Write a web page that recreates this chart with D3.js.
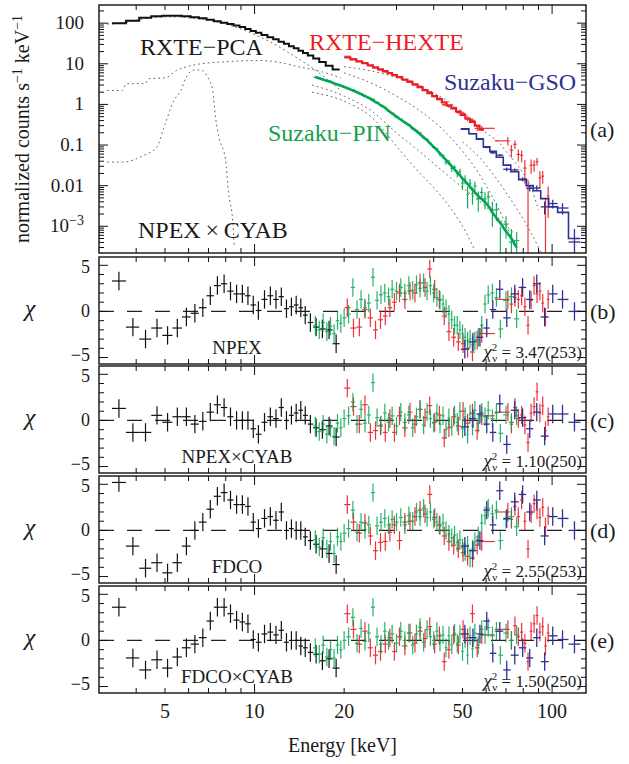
<!DOCTYPE html>
<html>
<head>
<meta charset="utf-8">
<script src="https://cdn.jsdelivr.net/npm/d3@7"></script>
<style>
  body { margin: 0; background: #fff; }
  svg text { font-family: "Liberation Serif", "Times New Roman", serif; fill: #1a1a1a; }
</style>
</head>
<body>
<svg id="chart" width="629" height="764"></svg>
<script>
// ---- RXTE-PCA (black) ----
const pcaE = [3.5,3.9,4.3,4.7,5.1,5.5,5.9,6.3,6.7,7.1,7.5,7.9,8.3,8.7,9.1,9.5,9.9,10.3,10.8,11.3,11.8,12.3,12.8,13.3,13.8,14.3,14.8,15.4,16.1,16.9,17.8,18.8];
const pcaFlux = [100,115,135,148,152,152,148,140,132,122,112,102,95,88,80,72,64,58,51,45,40,35,31,27,24,21,18.5,16,13.5,11,9,7.2];
const pcaResNPEX = [3.3,-1.7,-3.0,-1.8,-2.6,-1.8,-0.6,-0.2,0.4,1.7,2.8,3.0,2.2,1.9,1.9,1.7,0.7,0.1,1.3,1.7,1.3,1.6,0.3,0.5,0.7,0.4,-0.4,-1.2,-1.7,-1.9,-2.0,-3.5];
const pcaResNPEXCYAB = [1.3,-1.3,-1.3,0.55,-0.2,0.4,0.4,-0.4,-0.1,0.9,1.7,1.4,0.4,0.0,0.0,0.0,-0.9,-1.5,-0.2,0.4,0.2,1.4,0.0,0.55,0.8,1.1,0.55,-0.4,-0.8,-1.0,-0.6,-1.8];
const pcaResFDCO = [5.2,-1.7,-4.1,-3.5,-4.6,-3.5,-1.7,0.0,0.9,2.3,3.7,4.1,3.3,2.8,2.8,2.6,0.9,0.2,1.3,1.5,1.1,2.0,0.0,0.2,0.0,0.0,-0.7,-1.1,-1.5,-2.0,-2.5,-3.7];
const pcaResFDCOCYAB = [3.6,-1.9,-3.2,-2.1,-3.0,-1.8,-0.8,-0.4,0.3,2.1,3.6,3.6,2.9,2.2,2.0,1.8,0.1,-0.2,0.7,0.9,0.6,1.1,-0.2,0.0,0.0,-0.6,-0.8,-1.3,-1.5,-2.2,-2.0,-3.0];

// ---- RXTE-HEXTE (red) ----
const hexteE = [20.5,21.5,22.5,23.5,24.5,25.5,26.5,27.5,28.5,29.5,30.7,32,33.3,34.6,36,37.4,38.8,40.3,41.8,43.4,45,46.7,48.4,50.2,52,54,56,58,71,73,75,77,79,81,83,85,87,89,91,93,95,97];
const hexteFlux = [14.3,12.8,11.5,10.3,9.2,8.2,7.3,6.6,5.9,5.3,4.7,4.1,3.6,3.1,2.65,2.25,1.9,1.6,1.35,1.12,0.95,0.80,0.67,0.55,0.45,0.37,0.30,0.24,0.10,0.085,0.07,0.055,0.045,0.035,0.028,0.022,0.017,0.013,0.010,0.0075,0.0055,0.004];
const hexteFracErr = [0.02,0.02,0.02,0.02,0.025,0.025,0.025,0.03,0.03,0.03,0.035,0.035,0.04,0.04,0.045,0.05,0.05,0.055,0.06,0.065,0.07,0.08,0.09,0.1,0.11,0.12,0.13,0.15,0.3,0.3,0.35,0.35,0.4,0.45,0.5,0.55,0.6,0.65,0.7,0.8,0.9,1.0];
const hexteResNPEX = [0.4,-1.8,-1.7,0.2,-0.7,-2.0,-0.9,-0.5,0.4,1.0,2.0,1.3,2.2,2.0,3.1,2.6,4.6,2.4,1.3,-0.5,-2.2,-2.8,-3.3,-3.5,-4.0,-4.4,-3.1,-2.4,1.3,0.8,1.5,1.3,1.7,0.5,-1.5,1.2,2.8,1.9,2.2,0.9,-0.6,1.3];
const hexteResNPEXCYAB = [3.5,1.5,-0.4,1.7,-1.3,-1.1,-0.6,-1.3,0.2,-1.3,0.5,-0.8,0.9,-0.4,1.2,0.3,1.6,-0.2,0.6,-1.9,-0.8,0.4,-0.6,1.0,-0.3,0.8,-1.1,0.5,0.9,-0.4,1.4,0.2,0.6,-0.5,-2.4,0.8,1.5,3.1,0.8,1.6,-1.1,0.4];
const hexteResFDCO = [2.8,0.9,-0.3,0.8,-0.6,-2.2,-1.3,-1.2,-0.2,0.6,-1.1,0.9,1.0,1.5,2.2,1.8,3.9,1.4,0.6,-0.6,-1.2,-1.6,-2.0,-2.4,-2.8,-3.0,-1.6,-1.2,2.0,1.2,2.6,1.5,3.3,1.0,-2.0,1.8,2.9,2.2,1.4,2.5,0.4,1.6];
const hexteResFDCOCYAB = [2.9,1.2,-0.4,1.0,-0.8,-1.6,-1.2,-0.4,0.3,-1.2,0.4,-0.6,0.8,-0.3,1.0,0.2,1.5,-0.4,0.5,-2.3,-1.0,0.6,-0.5,1.2,0.3,2.9,-0.8,0.6,1.2,0.0,1.6,0.4,0.9,-0.3,-2.3,1.0,1.8,2.7,0.9,1.5,-0.6,0.8];

// ---- Suzaku-PIN (green) ----
const pinE = [16,16.5,17,17.5,18,18.5,19,19.5,20,20.7,21.4,22.1,22.8,23.5,24.2,25,25.8,26.6,27.4,28.2,29,30,31,32,33,34,35,36,37,38,39,40,41,42,43,44,45,46,47,48,49,50,51,52,53,54,55,56.5,58,59.5,61,63,65,67,70,73,76];
const pinFlux = [4.7,4.4,4.1,3.8,3.6,3.3,3.1,2.9,2.7,2.45,2.2,2.0,1.8,1.6,1.45,1.25,1.1,0.95,0.83,0.70,0.60,0.50,0.42,0.36,0.31,0.26,0.22,0.185,0.155,0.13,0.108,0.090,0.075,0.062,0.051,0.043,0.036,0.030,0.025,0.021,0.018,0.015,0.013,0.011,0.0093,0.0080,0.0068,0.0055,0.0047,0.0039,0.0032,0.0022,0.0016,0.0012,0.00075,0.0005,0.0003];
const pinFracErr = [0.01,0.01,0.01,0.01,0.01,0.01,0.012,0.012,0.012,0.013,0.014,0.015,0.016,0.017,0.018,0.02,0.021,0.022,0.024,0.026,0.028,0.03,0.033,0.036,0.04,0.044,0.05,0.055,0.06,0.065,0.07,0.08,0.09,0.1,0.11,0.12,0.14,0.16,0.18,0.2,0.22,0.25,0.28,0.3,0.33,0.36,0.4,0.45,0.5,0.55,0.6,0.7,0.75,0.8,0.85,0.9,0.95];
const pinResNPEX = [-1.5,-2.0,-1.2,-2.2,-1.6,-2.4,-1.0,-1.3,-0.7,-0.3,2.6,0.2,1.3,0.4,0.9,3.7,1.2,1.8,2.0,1.6,2.4,2.2,2.6,2.0,2.8,2.3,2.9,2.5,3.1,2.2,2.8,2.0,1.5,1.2,0.8,0.3,-0.3,-0.9,-1.5,-1.5,-2.0,-2.4,-2.8,-3.2,-3.0,-3.6,-3.2,-2.8,-1.5,0.8,1.8,2.0,1.5,-1.9,1.2,1.6,-0.8];
const pinResNPEXCYAB = [-0.6,-1.2,-0.4,-1.5,-0.8,-1.7,-0.3,-0.8,0.2,0.5,2.0,-0.4,1.2,-0.3,0.6,4.1,0.3,-0.5,0.8,-0.2,0.5,-0.6,0.9,-0.2,0.6,-0.8,0.4,1.2,-0.5,0.9,0.2,-0.3,0.8,-0.4,0.5,-1.0,0.3,-0.7,0.6,-0.2,1.0,-0.9,0.4,-1.5,0.7,-0.6,1.1,-0.3,0.9,0.4,1.1,0.2,0.8,-1.4,0.6,-0.2,0.5];
const pinResFDCO = [-1.0,-1.8,-0.8,-2.0,-1.2,-2.5,-0.7,-1.2,-0.3,0.2,2.2,-0.2,0.9,0.1,0.6,4.1,0.5,0.9,1.3,0.6,1.2,0.9,1.4,0.6,1.6,1.0,2.0,1.5,2.4,1.4,2.0,1.2,0.9,0.5,0.8,0.0,-0.4,-0.8,-0.5,-1.3,-1.0,-1.9,-2.3,-1.6,-3.0,-2.0,-1.2,-0.6,0.8,1.6,2.4,1.8,2.2,-1.1,1.2,1.5,0.4];
const pinResFDCOCYAB = [-0.8,-1.5,-0.5,-1.8,-1.0,-1.9,-0.5,-1.0,0.0,0.4,2.5,-0.3,1.3,-0.1,0.8,3.6,0.4,-0.4,1.0,0.0,0.7,-0.3,1.0,0.0,0.8,-0.5,0.7,1.4,-0.2,1.2,0.4,0.0,1.0,-0.2,0.6,-0.8,0.5,-0.5,0.8,-0.3,0.7,-1.2,0.2,-1.6,0.5,-0.9,0.8,-0.5,1.2,0.6,1.4,0.5,1.0,-1.6,0.8,0.0,0.6];

// ---- Suzaku-GSO (blue) ----
const gsoE = [50.9,54.2,57.2,60.3,63.2,66.7,70.4,74.9,79.6,84.1,88.8,94.4,100.5,108.4,118.9];
const gsoFlux = [0.25,0.19,0.14,0.09,0.07,0.05,0.032,0.022,0.014,0.010,0.0075,0.0048,0.003,0.0022,0.0005];
const gsoFracErr = [0.03,0.03,0.04,0.05,0.06,0.07,0.08,0.1,0.12,0.15,0.18,0.22,0.3,0.4,0.9];
const gsoResNPEX = [-4.1,-3.3,-2.8,-1.8,0.2,2.4,-0.7,1.9,2.6,1.3,3.0,-0.6,1.9,1.3,0.0];
const gsoResNPEXCYAB = [-0.7,0.2,0.7,-0.4,-1.3,1.8,-2.6,1.1,0.3,-0.9,0.9,-1.7,0.7,0.7,-0.2];
const gsoResFDCO = [-1.7,-2.2,-1.1,2.2,0.6,4.3,1.3,3.1,3.9,2.0,3.3,-0.6,1.5,1.3,0.0];
const gsoResFDCOCYAB = [0.7,0.3,0.7,2.1,-1.4,1.0,-3.2,-1.6,-0.8,-1.9,0.3,-2.3,0.5,0.1,-0.4];

// ---- model components (gray dotted) ----
const compPcaSoftE = [3.2,3.6,4,4.5,5,5.5,6,7,8,9,10,11,12,13,14,16,18,19.5];
const compPcaSoftF = [95,100,118,135,142,142,136,118,95,72,52,38,27,19,13.5,7,3.6,2.2];
const compPcaHardE = [3.2,3.6,3.7,4.3,4.4,5,5.5,6.1,7,8,9,10.5,12,14,16,18,19.5];
const compPcaHardF = [2.2,2.2,3.2,3.3,4.3,4.5,7,9,10.5,11.2,11.8,12,11,8.5,7,5.5,4.5];
const compPcaBumpE = [3.2,3.6,4.25,4.7,4.95,5.36,5.65,5.87,6.25,6.6,6.96,7.23,7.4,7.58,7.99,8.18,8.44,8.55];
const compPcaBumpF = [0.038,0.038,0.056,0.09,0.26,1.26,2.2,4.4,7,7,4.7,2.2,0.46,0.16,0.043,0.0065,0.0014,0.0003];
const compHexte1E = [20,25,30,35,40,45,50,55,60,66.7,70,75,80,85,90];
const compHexte1F = [8.5,6.5,4.6,3.0,1.9,1.15,0.65,0.36,0.2,0.11,0.07,0.038,0.02,0.009,0.0025];
const compHexte2E = [20,25,30,35,40,45,50,55,60,65,70,75];
const compHexte2F = [6,3.2,1.6,0.8,0.38,0.17,0.07,0.028,0.01,0.0035,0.0011,0.0003];
const compPin1E = [15.6,20,25,30,35,40,50,60,74];
const compPin1F = [3.0,1.6,0.65,0.2,0.08,0.035,0.009,0.003,0.0007];
const compPin2E = [15.6,20,25,30.8,35,40,47.8,52,55];
const compPin2F = [2.0,1.2,0.45,0.074,0.025,0.009,0.0017,0.0006,0.00025];
const compGsoE = [50,58,65,72,80,90,95];
const compGsoF = [0.12,0.043,0.015,0.005,0.0015,0.0003,0.00012];

const xTickLabels = [5, 10, 20, 50, 100];
const topTickValues = [100, 10, 1, 0.1, 0.01, 0.001];
const topTickText = ['100', '10', '1', '0.1', '0.01', '10|−3'];
const resTickValues = [5, 0, -5];
const panelModels = ['NPEX', 'NPEX×CYAB', 'FDCO', 'FDCO×CYAB'];
const panelStats = ['3.47(253)', '1.10(250)', '2.55(253)', '1.50(250)'];
const panelLetters = ['(a)', '(b)', '(c)', '(d)', '(e)'];

const RED = '#ec1c24', GREEN = '#00a651', BLUE = '#2e3192', BLACK = '#111';

const svg = d3.select('#chart');
const L = 99, R = 586;
const x = d3.scaleLog().domain([3, 130]).range([L, R]);
const topPanel = { y0: 5, y1: 253 };
const yTop = d3.scaleLog().domain([2.2e-4, 280]).range([topPanel.y1, topPanel.y0]);
const resTops = [257, 366, 476, 586];
const resH = 107;

function binEdges(E) {
  return E.map((e, i) => {
    let rl = i > 0 ? e / E[i - 1] : E[i + 1] / e;
    let rh = i < E.length - 1 ? E[i + 1] / e : e / E[i - 1];
    if (rl > 1.5 * rh) rl = rh;
    if (rh > 1.5 * rl) rh = rl;
    return [e / Math.sqrt(rl), e * Math.sqrt(rh)];
  });
}

function clip(id, y0, y1) {
  svg.append('clipPath').attr('id', id)
    .append('rect').attr('x', L).attr('y', y0).attr('width', R - L).attr('height', y1 - y0);
}

function drawCrosses(g, E, vals, lo, hi, y, color, width, opacity) {
  const edges = binEdges(E);
  const cg = g.append('g').attr('stroke', color).attr('stroke-width', width).attr('opacity', opacity);
  E.forEach((e, i) => {
    cg.append('line').attr('x1', x(edges[i][0])).attr('x2', x(edges[i][1]))
      .attr('y1', y(vals[i])).attr('y2', y(vals[i]));
    cg.append('line').attr('x1', x(e)).attr('x2', x(e))
      .attr('y1', y(lo[i])).attr('y2', y(hi[i]));
  });
}

function stepPath(E, F) {
  const edges = binEdges(E);
  const pts = [];
  E.forEach((e, i) => { pts.push([edges[i][0], F[i]], [edges[i][1], F[i]]); });
  return pts;
}

function xTicks(y0, y1) {
  const g = svg.append('g').attr('stroke', BLACK).attr('stroke-width', 1);
  const vals = [];
  [1, 10, 100].forEach(d => { for (let m = 1; m <= 9; m++) { const v = m * d; if (v > 3 && v < 130) vals.push(v); } });
  vals.forEach(v => {
    const len = (v === 10 || v === 100) ? 9 : 5;
    g.append('line').attr('x1', x(v)).attr('x2', x(v)).attr('y1', y0).attr('y2', y0 + len);
    g.append('line').attr('x1', x(v)).attr('x2', x(v)).attr('y1', y1).attr('y2', y1 - len);
  });
}

function yTicks(y, vals, majors) {
  const g = svg.append('g').attr('stroke', BLACK).attr('stroke-width', 1);
  vals.forEach(v => {
    const len = majors(v) ? 9 : 5;
    g.append('line').attr('x1', L).attr('x2', L + len).attr('y1', y(v)).attr('y2', y(v));
    g.append('line').attr('x1', R).attr('x2', R - len).attr('y1', y(v)).attr('y2', y(v));
  });
}

// ---------- top panel (a) ----------
clip('clipTop', topPanel.y0, topPanel.y1);
const gTop = svg.append('g').attr('clip-path', 'url(#clipTop)');
const line = d3.line().x(d => x(d[0])).y(d => yTop(d[1]));
const curve = d3.line().x(d => x(d[0])).y(d => yTop(d[1])).curve(d3.curveMonotoneX);

[[compPcaSoftE, compPcaSoftF], [compPcaHardE, compPcaHardF], [compPcaBumpE, compPcaBumpF],
 [compHexte1E, compHexte1F], [compHexte2E, compHexte2F], [compPin1E, compPin1F],
 [compPin2E, compPin2F], [compGsoE, compGsoF]].forEach(([E, F]) => {
  gTop.append('path').datum(E.map((e, i) => [e, F[i]]))
    .attr('d', curve).attr('fill', 'none').attr('stroke', '#6a6a6a')
    .attr('stroke-width', 1).attr('stroke-dasharray', '1.8,3');
});

const floorV = 1e-5;
function topData(flux, frac, res) {
  const v = flux.map((f, i) => Math.max(f * (1 + res[i] * frac[i]), floorV));
  const lo = flux.map((f, i) => Math.max(v[i] - f * frac[i], floorV));
  const hi = flux.map((f, i) => v[i] + f * frac[i]);
  return { v, lo, hi };
}

// PCA model step
gTop.append('path').datum(stepPath(pcaE, pcaFlux)).attr('d', line)
  .attr('fill', 'none').attr('stroke', BLACK).attr('stroke-width', 2);

// HEXTE
const hx = topData(hexteFlux, hexteFracErr, hexteResNPEXCYAB);
drawCrosses(gTop, hexteE, hx.v, hx.lo, hx.hi, yTop, RED, 1.2, 0.9);
gTop.append('path').datum(stepPath(hexteE.slice(0, 28), hexteFlux.slice(0, 28))).attr('d', line)
  .attr('fill', 'none').attr('stroke', RED).attr('stroke-width', 2.2);

// GSO
const gx = topData(gsoFlux, gsoFracErr, gsoResNPEXCYAB);
drawCrosses(gTop, gsoE, gx.v, gx.lo, gx.hi, yTop, BLUE, 1.3, 1);
gTop.append('path').datum(stepPath(gsoE, gsoFlux)).attr('d', line)
  .attr('fill', 'none').attr('stroke', BLUE).attr('stroke-width', 1.6);

// PIN
const px = topData(pinFlux, pinFracErr, pinResNPEXCYAB);
drawCrosses(gTop, pinE, px.v, px.lo, px.hi, yTop, GREEN, 1.2, 0.9);
gTop.append('path').datum(pinE.map((e, i) => [e, pinFlux[i]])).attr('d', curve)
  .attr('fill', 'none').attr('stroke', GREEN).attr('stroke-width', 2.6);

// frame + ticks
svg.append('rect').attr('x', L).attr('y', topPanel.y0).attr('width', R - L)
  .attr('height', topPanel.y1 - topPanel.y0).attr('fill', 'none').attr('stroke', BLACK).attr('stroke-width', 1.4);
xTicks(topPanel.y0, topPanel.y1);
const topTickVals = [];
[-4, -3, -2, -1, 0, 1, 2].forEach(p => { for (let m = 1; m <= 9; m++) { const v = m * Math.pow(10, p); if (v > 2.2e-4 && v < 280) topTickVals.push(v); } });
yTicks(yTop, topTickVals, v => Math.abs(Math.log10(v) - Math.round(Math.log10(v))) < 1e-9);

topTickValues.forEach((v, i) => {
  const t = svg.append('text').attr('x', 84).attr('y', yTop(v) + 6)
    .attr('text-anchor', 'end').attr('font-size', 19);
  const parts = topTickText[i].split('|');
  t.append('tspan').text(parts[0]);
  if (parts[1]) t.append('tspan').attr('dy', -7).attr('font-size', 14).text(parts[1]);
});

// y label
const yl = svg.append('text').attr('transform', `translate(29,${(topPanel.y0 + topPanel.y1) / 2}) rotate(-90)`)
  .attr('text-anchor', 'middle').attr('font-size', 20);
yl.append('tspan').text('normalized counts s');
yl.append('tspan').attr('dy', -7).attr('font-size', 14).text('−1');
yl.append('tspan').attr('dy', 7).text(' keV');
yl.append('tspan').attr('dy', -7).attr('font-size', 14).text('−1');

// instrument labels
const instLabels = [
  { t: 'RXTE−PCA', x: 140, y: 55, c: '#1a1a1a' },
  { t: 'RXTE−HEXTE', x: 309, y: 50, c: RED },
  { t: 'Suzaku−GSO', x: 444, y: 90, c: BLUE },
  { t: 'Suzaku−PIN', x: 268, y: 141, c: '#13a04a' },
  { t: 'NPEX\u2009×\u2009CYAB', x: 138, y: 238, c: '#1a1a1a' }
];
instLabels.forEach(d => svg.append('text').attr('x', d.x).attr('y', d.y)
  .attr('font-size', 24).style('fill', d.c).text(d.t));

// ---------- residual panels ----------
const resSets = [
  [pcaResNPEX, hexteResNPEX, pinResNPEX, gsoResNPEX],
  [pcaResNPEXCYAB, hexteResNPEXCYAB, pinResNPEXCYAB, gsoResNPEXCYAB],
  [pcaResFDCO, hexteResFDCO, pinResFDCO, gsoResFDCO],
  [pcaResFDCOCYAB, hexteResFDCOCYAB, pinResFDCOCYAB, gsoResFDCOCYAB]
];

resTops.forEach((top, k) => {
  const bot = top + resH;
  const y = d3.scaleLinear().domain([-5.7, 5.9]).range([bot, top]);
  clip('clipRes' + k, top, bot);
  const g = svg.append('g').attr('clip-path', `url(#clipRes${k})`);

  g.append('line').attr('x1', L).attr('x2', R).attr('y1', y(0)).attr('y2', y(0))
    .attr('stroke', '#222').attr('stroke-width', 1.2).attr('stroke-dasharray', '15,13');

  const [rp, rh, rpin, rg] = resSets[k];
  const sets = [[pcaE, rp, BLACK, 1.2, 1], [hexteE, rh, RED, 1.2, 0.9], [pinE, rpin, GREEN, 1.2, 0.85], [gsoE, rg, BLUE, 1.3, 1]];
  sets.forEach(([E, r, c, w, o]) => {
    drawCrosses(g, E, r, r.map(v => v - 1), r.map(v => v + 1), y, c, w, o);
  });

  svg.append('rect').attr('x', L).attr('y', top).attr('width', R - L).attr('height', resH)
    .attr('fill', 'none').attr('stroke', BLACK).attr('stroke-width', 1.4);
  xTicks(top, bot);
  yTicks(y, d3.range(-5, 6), v => v % 5 === 0);

  resTickValues.forEach(v => svg.append('text').attr('x', 90)
    .attr('y', y(v) + (v > 0 ? 8 : v < 0 ? 3 : 6))
    .attr('text-anchor', 'end').attr('font-size', 18).text(v < 0 ? '−' + Math.abs(v) : v));

  svg.append('text').attr('x', 30).attr('y', y(0) + 5).attr('text-anchor', 'middle')
    .attr('font-size', 24).attr('font-style', 'italic').text('χ');

  svg.append('text').attr('x', 237).attr('y', bot - 10).attr('text-anchor', 'middle')
    .attr('font-size', 19).text(panelModels[k]);

  const st = svg.append('text').attr('x', 582).attr('y', bot - 6).attr('text-anchor', 'end').attr('font-size', 17);
  st.append('tspan').attr('font-size', 19).attr('font-style', 'italic').text('χ');
  st.append('tspan').attr('dy', -7).attr('font-size', 11).text('2');
  st.append('tspan').attr('dy', 11).attr('dx', -5).attr('font-size', 11).text('ν');
  st.append('tspan').attr('dy', -4).text(' = ' + panelStats[k]);

  svg.append('text').attr('x', 590).attr('y', (top + bot) / 2 + 8).attr('font-size', 22).text(panelLetters[k + 1]);
});

svg.append('text').attr('x', 590).attr('y', (topPanel.y0 + topPanel.y1) / 2 + 8).attr('font-size', 22).text(panelLetters[0]);

// bottom axis labels
const lastBot = resTops[3] + resH;
xTickLabels.forEach(v => svg.append('text').attr('x', x(v)).attr('y', lastBot + 25)
  .attr('text-anchor', 'middle').attr('font-size', 20).text(v));
svg.append('text').attr('x', (L + R) / 2).attr('y', 752).attr('text-anchor', 'middle')
  .attr('font-size', 20).text('Energy [keV]');
</script>
</body>
</html>
